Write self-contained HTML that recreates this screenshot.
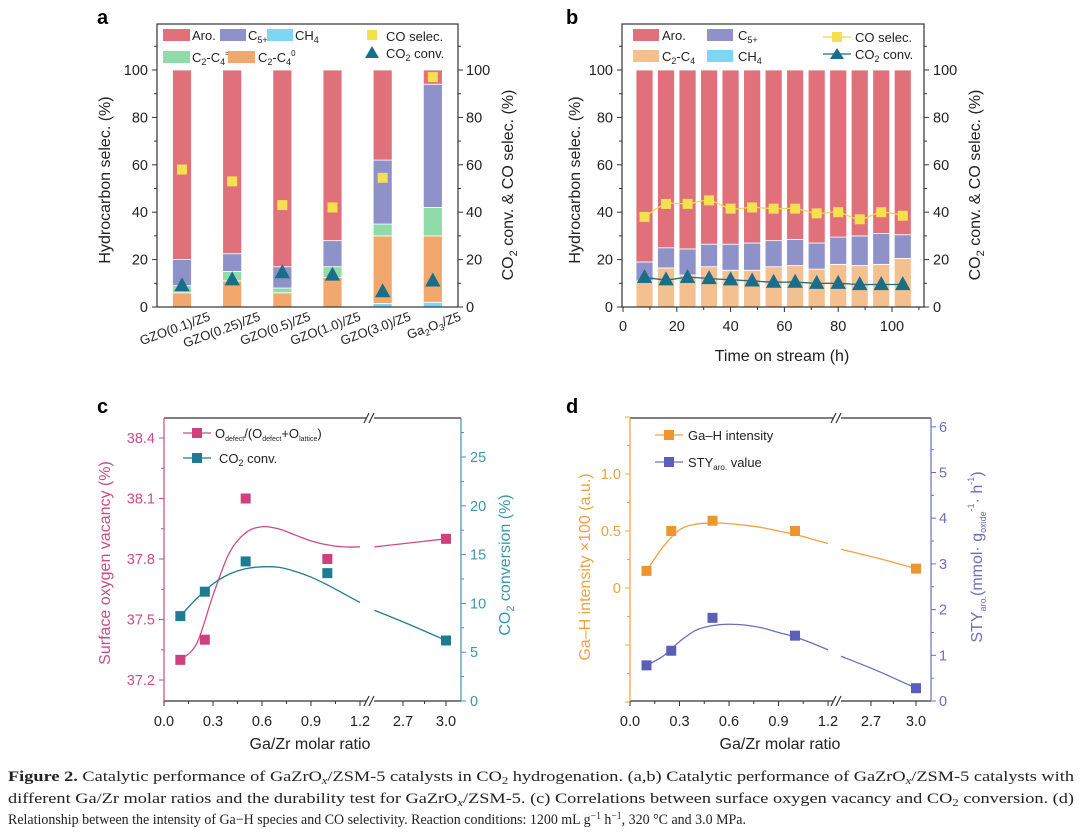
<!DOCTYPE html>
<html><head><meta charset="utf-8">
<style>
html,body{margin:0;padding:0;background:#fff;}
svg{display:block;font-family:"Liberation Sans",Arial,sans-serif;}
</style></head>
<body>
<svg id="fig" width="1080" height="838" viewBox="0 0 1080 838" xmlns="http://www.w3.org/2000/svg">
<rect x="0" y="0" width="1080" height="838" fill="#fff"/>
<!-- panel letters -->
<text x="97" y="24" font-size="20" font-weight="bold">a</text>
<text x="566" y="24" font-size="20" font-weight="bold">b</text>
<text x="97" y="413" font-size="20" font-weight="bold">c</text>
<text x="566" y="413" font-size="20" font-weight="bold">d</text>

<!-- panel a titles -->
<text transform="translate(110,180) rotate(-90)" text-anchor="middle" font-size="16" fill="#222">Hydrocarbon selec. (%)</text>
<text transform="translate(513,185) rotate(-90)" text-anchor="middle" font-size="16" fill="#222">CO<tspan font-size="11" dy="4">2</tspan><tspan dy="-4"> conv. &amp; CO selec. (%)</tspan></text>
<!-- panel a legend -->
<g font-size="13" fill="#222">
<rect x="163" y="29" width="27" height="12" fill="#e0707a"/>
<text x="192" y="40">Aro.</text>
<rect x="220" y="29" width="26" height="12" fill="#8e92c8"/>
<text x="248" y="40">C<tspan font-size="9" dy="3">5+</tspan></text>
<rect x="267" y="29" width="26" height="12" fill="#7dd6f2"/>
<text x="295" y="40">CH<tspan font-size="9" dy="3">4</tspan></text>
<rect x="163" y="51" width="27" height="12" fill="#8fdca8"/>
<text x="192" y="62">C<tspan font-size="9" dy="3">2</tspan><tspan dy="-3">-C</tspan><tspan font-size="9" dy="3">4</tspan><tspan font-size="8" dy="-9">=</tspan></text>
<rect x="228" y="51" width="27" height="12" fill="#f2a86c"/>
<text x="258" y="62">C<tspan font-size="9" dy="3">2</tspan><tspan dy="-3">-C</tspan><tspan font-size="9" dy="3">4</tspan><tspan font-size="8" dy="-9">0</tspan></text>
<rect x="367" y="30" width="10" height="10" fill="#f5e050"/>
<text x="386" y="41">CO selec.</text>
<path d="M372,46 L379,58 L365,58 Z" fill="#1a6e8a"/>
<text x="386" y="58">CO<tspan font-size="9" dy="3">2</tspan><tspan dy="-3"> conv.</tspan></text>
</g>

<!-- panel b titles -->
<text transform="translate(580,180) rotate(-90)" text-anchor="middle" font-size="16" fill="#222">Hydrocarbon selec. (%)</text>
<text transform="translate(980,185) rotate(-90)" text-anchor="middle" font-size="16" fill="#222">CO<tspan font-size="11" dy="4">2</tspan><tspan dy="-4"> conv. &amp; CO selec. (%)</tspan></text>
<text x="782" y="361" text-anchor="middle" font-size="16" fill="#222">Time on stream (h)</text>
<g font-size="13" fill="#222">
<rect x="633" y="29" width="26" height="12" fill="#e0707a"/>
<text x="662" y="40">Aro.</text>
<rect x="707" y="29" width="26" height="12" fill="#8e92c8"/>
<text x="738" y="40">C<tspan font-size="9" dy="3">5+</tspan></text>
<rect x="633" y="50" width="26" height="12" fill="#f5c08f"/>
<text x="662" y="61">C<tspan font-size="9" dy="3">2</tspan><tspan dy="-3">-C</tspan><tspan font-size="9" dy="3">4</tspan></text>
<rect x="707" y="50" width="26" height="12" fill="#7dd6f2"/>
<text x="738" y="61">CH<tspan font-size="9" dy="3">4</tspan></text>
<line x1="823" y1="37" x2="851" y2="37" stroke="#f0d84a" stroke-width="1.3"/>
<rect x="832" y="32" width="10" height="10" fill="#f5e050"/>
<text x="855" y="42">CO selec.</text>
<line x1="823" y1="54" x2="851" y2="54" stroke="#1a6e8a" stroke-width="1.3"/>
<path d="M837,48 L844,59 L830,59 Z" fill="#1a6e8a"/>
<text x="855" y="59">CO<tspan font-size="9" dy="3">2</tspan><tspan dy="-3"> conv.</tspan></text>
</g>

<!-- panel c titles -->
<text transform="translate(110,563) rotate(-90)" text-anchor="middle" font-size="16" fill="#cc4c86">Surface oxygen vacancy (%)</text>
<text transform="translate(510,565) rotate(-90)" text-anchor="middle" font-size="16" fill="#3a98ad">CO<tspan font-size="11" dy="4">2</tspan><tspan dy="-4"> conversion (%)</tspan></text>
<text x="310" y="749" text-anchor="middle" font-size="16" fill="#222">Ga/Zr molar ratio</text>
<g font-size="13" fill="#222">
<line x1="183" y1="433" x2="211" y2="433" stroke="#cc4c86" stroke-width="1.3"/>
<rect x="192" y="428" width="10" height="10" fill="#d0407e"/>
<text x="215" y="438">O<tspan font-size="7" dy="3">defect</tspan><tspan dy="-3">/(O</tspan><tspan font-size="7" dy="3">defect</tspan><tspan dy="-3">+O</tspan><tspan font-size="7" dy="3">lattice</tspan><tspan dy="-3">)</tspan></text>
<line x1="183" y1="458" x2="211" y2="458" stroke="#1e7b92" stroke-width="1.3"/>
<rect x="192" y="453" width="10" height="10" fill="#1e7b92"/>
<text x="219" y="463">CO<tspan font-size="9" dy="3">2</tspan><tspan dy="-3"> conv.</tspan></text>
</g>

<!-- panel d titles -->
<text transform="translate(590,567) rotate(-90)" text-anchor="middle" font-size="16" fill="#f0a040">Ga–H intensity ×100 (a.u.)</text>
<text transform="translate(982,557) rotate(-90)" text-anchor="middle" font-size="16" fill="#6a70b8">STY<tspan font-size="9" dy="4">aro.</tspan><tspan dy="-4">(mmol· g</tspan><tspan font-size="9" dy="4">oxide</tspan><tspan font-size="9" dy="-12">-1</tspan><tspan dy="8">· h</tspan><tspan font-size="9" dy="-8">-1</tspan><tspan dy="8">)</tspan></text>
<text x="780" y="749" text-anchor="middle" font-size="16" fill="#222">Ga/Zr molar ratio</text>
<g font-size="13" fill="#222">
<line x1="655" y1="435" x2="683" y2="435" stroke="#f0a040" stroke-width="1.3"/>
<rect x="664" y="430" width="10" height="10" fill="#f0952e"/>
<text x="688" y="440">Ga–H intensity</text>
<line x1="655" y1="462" x2="683" y2="462" stroke="#6a70b8" stroke-width="1.3"/>
<rect x="664" y="457" width="10" height="10" fill="#5a60b8"/>
<text x="688" y="467">STY<tspan font-size="8" dy="3">aro.</tspan><tspan dy="-3"> value</tspan></text>
</g>

<!-- caption -->
<g font-family="'Liberation Serif',serif" font-size="14.5" fill="#222">
<text x="8" y="781" textLength="1066" lengthAdjust="spacingAndGlyphs"><tspan font-weight="bold">Figure 2.</tspan> Catalytic performance of GaZrO<tspan font-size="10" dy="3" font-style="italic">x</tspan><tspan dy="-3">/ZSM-5 catalysts in CO</tspan><tspan font-size="10" dy="3">2</tspan><tspan dy="-3"> hydrogenation. (a,b) Catalytic performance of GaZrO</tspan><tspan font-size="10" dy="3" font-style="italic">x</tspan><tspan dy="-3">/ZSM-5 catalysts with</tspan></text>
<text x="8" y="803" textLength="1066" lengthAdjust="spacingAndGlyphs">different Ga/Zr molar ratios and the durability test for GaZrO<tspan font-size="10" dy="3" font-style="italic">x</tspan><tspan dy="-3">/ZSM-5. (c) Correlations between surface oxygen vacancy and CO</tspan><tspan font-size="10" dy="3">2</tspan><tspan dy="-3"> conversion. (d)</tspan></text>
<text x="8" y="824" textLength="738" lengthAdjust="spacingAndGlyphs">Relationship between the intensity of Ga−H species and CO selectivity. Reaction conditions: 1200 mL g<tspan font-size="10" dy="-5">−1</tspan><tspan dy="5"> h</tspan><tspan font-size="10" dy="-5">−1</tspan><tspan dy="5">, 320 °C and 3.0 MPa.</tspan></text>
</g>
</svg>
<script>
// ---------- data: panel a ----------
const aCats = ['GZO(0.1)/Z5','GZO(0.25)/Z5','GZO(0.5)/Z5','GZO(1.0)/Z5','GZO(3.0)/Z5','Ga2O3/Z5'];
const aCH4 = [0, 0, 0, 0, 1.5, 2];
const aParaffin = [6, 11, 6, 12.5, 28.5, 28];
const aOlefin = [3, 4, 2, 4.5, 5, 12];
const aC5 = [11, 7.5, 9, 11, 27, 52];
const aAro = [80, 77.5, 83, 72, 38, 6];
const aCO = [58, 53, 43, 42, 54.5, 97];
const aCO2 = [9, 11.5, 14.5, 13.5, 6.5, 11];
const aTicks = [0, 20, 40, 60, 80, 100];
// ---------- data: panel b ----------
const bTime = [8, 16, 24, 32, 40, 48, 56, 64, 72, 80, 88, 96, 104];
const bC2C4 = [11, 16.5, 13.5, 17, 15.5, 15.5, 17, 17.5, 16, 18, 17.5, 18, 20.5];
const bCH4 = [0, 0, 0, 0, 0, 0, 0, 0, 0, 0, 0, 0, 0];
const bC5 = [8, 8.5, 11, 9.5, 11, 11.5, 11, 11, 11, 11.5, 12.5, 13, 10];
const bAro = [81, 75, 75.5, 73.5, 73.5, 73, 72, 71.5, 73, 70.5, 70, 69, 69.5];
const bCO = [38, 43.5, 43.5, 45, 41.5, 42, 41.5, 41.5, 39.5, 40, 37, 40, 38.5];
const bCO2 = [12.5, 11.5, 12.5, 12, 11.5, 11, 10.5, 10.5, 10, 10, 9.5, 9.5, 9.5];
const bXTicks = [0, 20, 40, 60, 80, 100];
// ---------- data: panel c ----------
const cX = [0.1, 0.25, 0.5, 1.0, 3.0];
const cVacancy = [37.3, 37.4, 38.1, 37.8, 37.9];
const cConv = [8.7, 11.2, 14.3, 13.1, 6.2];
const cFitX1 = [0.1, 0.2, 0.3, 0.4, 0.5, 0.6, 0.7, 0.8, 0.9, 1.0, 1.1, 1.2];
const cFitVac1 = [37.3, 37.38, 37.62, 37.83, 37.93, 37.96, 37.95, 37.92, 37.89, 37.87, 37.86, 37.86];
const cFitConv1 = [8.7, 10.5, 12.0, 13.0, 13.55, 13.75, 13.7, 13.3, 12.7, 11.9, 11.0, 10.1];
const cFitX2 = [2.5, 2.75, 3.0];
const cFitVac2 = [37.86, 37.88, 37.9];
const cFitConv2 = [9.3, 7.8, 6.2];
const cLeftTicks = ['37.2', '37.5', '37.8', '38.1', '38.4'];
const cRightTicks = [0, 5, 10, 15, 20, 25];
const xBrokenTicks = ['0.0', '0.3', '0.6', '0.9', '1.2', '2.7', '3.0'];
// ---------- data: panel d ----------
const dX = [0.1, 0.25, 0.5, 1.0, 3.0];
const dGaH = [0.15, 0.5, 0.59, 0.5, 0.17];
const dSTY = [0.78, 1.1, 1.82, 1.43, 0.28];
const dFitX1 = [0.1, 0.2, 0.3, 0.4, 0.5, 0.6, 0.7, 0.8, 0.9, 1.0, 1.1, 1.2];
const dFitGaH1 = [0.15, 0.36, 0.51, 0.56, 0.57, 0.565, 0.55, 0.53, 0.5, 0.47, 0.43, 0.39];
const dFitSTY1 = [0.78, 0.98, 1.3, 1.55, 1.65, 1.68, 1.66, 1.6, 1.5, 1.4, 1.27, 1.12];
const dFitX2 = [2.5, 2.75, 3.0];
const dFitGaH2 = [0.34, 0.26, 0.17];
const dFitSTY2 = [0.98, 0.65, 0.28];
const dLeftTicks = ['0', '0.5', '1.0'];
const dRightTicks = [0, 1, 2, 3, 4, 5, 6];

const NS = 'http://www.w3.org/2000/svg';
const svg = document.getElementById('fig');
function el(tag, attrs, name, parent) {
  const e = document.createElementNS(NS, tag);
  for (const k in attrs) e.setAttribute(k, attrs[k]);
  
  
  (parent || svg).appendChild(e);
  return e;
}
function tx(x, y, s, attrs, name, parent) {
  const e = el('text', Object.assign({x: x, y: y}, attrs), name, parent);
  e.textContent = s;
  return e;
}
function ln(x1, y1, x2, y2, stroke, sw, name, parent) {
  return el('line', {x1: x1, y1: y1, x2: x2, y2: y2, stroke: stroke, 'stroke-width': sw}, name, parent);
}
function smooth(pts) {
  let d = 'M' + pts[0][0] + ',' + pts[0][1];
  for (let i = 0; i < pts.length - 1; i++) {
    const p0 = pts[Math.max(0, i - 1)], p1 = pts[i], p2 = pts[i + 1], p3 = pts[Math.min(pts.length - 1, i + 2)];
    const c1x = p1[0] + (p2[0] - p0[0]) / 6, c1y = p1[1] + (p2[1] - p0[1]) / 6;
    const c2x = p2[0] - (p3[0] - p1[0]) / 6, c2y = p2[1] - (p3[1] - p1[1]) / 6;
    d += ' C' + c1x + ',' + c1y + ' ' + c2x + ',' + c2y + ' ' + p2[0] + ',' + p2[1];
  }
  return d;
}
function tri(cx, cy, s, fill, name, parent) {
  return el('path', {d: 'M' + cx + ',' + (cy - s * 0.6) + ' L' + (cx + s * 0.55) + ',' + (cy + s * 0.4) + ' L' + (cx - s * 0.55) + ',' + (cy + s * 0.4) + ' Z', fill: fill}, name, parent);
}
function sq(cx, cy, s, fill, name, parent) {
  return el('rect', {x: cx - s / 2, y: cy - s / 2, width: s, height: s, fill: fill}, name, parent);
}

// ================= PANEL A =================
(function () {
  const g = el('g', {}, 'panel-a-chart');
  const L = 157, R = 458, T = 24, B = 307;
  const yA = v => B - v * 2.37;
  const xA = i => L + 25 + i * ((R - L) / aCats.length);
  const colors = ['#7dd6f2', '#f2a86c', '#8fdca8', '#8e92c8', '#e0707a'];
  const series = [aCH4, aParaffin, aOlefin, aC5, aAro];
  const sNames = ['ch4', 'paraffin', 'olefin', 'c5', 'aro'];
  for (let i = 0; i < aCats.length; i++) {
    let base = 0;
    for (let s = 0; s < series.length; s++) {
      const v = series[s][i];
      if (v > 0) {
        const r = el('rect', {x: xA(i) - 9.5, y: yA(base + v), width: 19, height: yA(base) - yA(base + v), fill: colors[s], stroke: '#fff', 'stroke-width': 0.8}, 'a-bar-' + sNames[s] + '-' + i, g);
      }
      base += v;
    }
  }
  el('rect', {x: L, y: T, width: R - L, height: B - T, fill: 'none', stroke: '#333', 'stroke-width': 1.2}, 'a-plot-frame', g);
  for (let v = 0; v <= 110; v += 10) {
    const major = v % 20 === 0;
    const len = major ? 5 : 3;
    ln(L, yA(v), L - len, yA(v), '#333', 1, 'a-left-tick', g);
    ln(R, yA(v), R + len, yA(v), '#333', 1, 'a-right-tick', g);
  }
  aTicks.forEach(v => {
    tx(148, yA(v) + 5, String(v), {'text-anchor': 'end', 'font-size': 14.5, fill: '#222'}, 'a-left-tick-label', g);
    tx(466, yA(v) + 5, String(v), {'font-size': 14.5, fill: '#222'}, 'a-right-tick-label', g);
  });
  aCats.forEach((c, i) => {
    const t = el('text', {transform: 'translate(' + (xA(i) + 29) + ',320) rotate(-20)', 'text-anchor': 'end', 'font-size': 13, fill: '#222'}, 'a-x-tick-label', g);
    if (c === 'Ga2O3/Z5') {
      t.innerHTML = 'Ga<tspan font-size="9" dy="3">2</tspan><tspan dy="-3">O</tspan><tspan font-size="9" dy="3">3</tspan><tspan dy="-3">/Z5</tspan>';
    } else {
      t.textContent = c;
    }
  });
  aCO.forEach((v, i) => sq(xA(i), yA(v), 10, '#f5e050', 'a-co-selec-marker', g));
  aCO2.forEach((v, i) => tri(xA(i), yA(v), 14, '#1a6e8a', 'a-co2-conv-marker', g));
})();

// ================= PANEL B =================
(function () {
  const g = el('g', {}, 'panel-b-chart');
  const L = 622, R = 924, T = 24, B = 307;
  const yB = v => B - v * 2.37;
  const xB = t => 623 + t * 2.69;
  const colors = ['#7dd6f2', '#f5c08f', '#8e92c8', '#e0707a'];
  const series = [bCH4, bC2C4, bC5, bAro];
  const sNames = ['ch4', 'c2c4', 'c5', 'aro'];
  for (let i = 0; i < bTime.length; i++) {
    let base = 0;
    for (let s = 0; s < series.length; s++) {
      const v = series[s][i];
      if (v > 0) {
        el('rect', {x: xB(bTime[i]) - 8.5, y: yB(base + v), width: 17, height: yB(base) - yB(base + v), fill: colors[s], stroke: '#fff', 'stroke-width': 0.8}, 'b-bar-' + sNames[s] + '-' + i, g);
      }
      base += v;
    }
  }
  el('rect', {x: L, y: T, width: R - L, height: B - T, fill: 'none', stroke: '#333', 'stroke-width': 1.2}, 'b-plot-frame', g);
  for (let v = 0; v <= 110; v += 10) {
    const major = v % 20 === 0;
    const len = major ? 5 : 3;
    ln(L, yB(v), L - len, yB(v), '#333', 1, 'b-left-tick', g);
    ln(R, yB(v), R + len, yB(v), '#333', 1, 'b-right-tick', g);
    ln(xB(v), B, xB(v), B + len, '#333', 1, 'b-x-tick', g);
  }
  aTicks.forEach(v => {
    tx(613, yB(v) + 5, String(v), {'text-anchor': 'end', 'font-size': 14.5, fill: '#222'}, 'b-left-tick-label', g);
    tx(933, yB(v) + 5, String(v), {'font-size': 14.5, fill: '#222'}, 'b-right-tick-label', g);
  });
  bXTicks.forEach(v => tx(xB(v), 331, String(v), {'text-anchor': 'middle', 'font-size': 14.5, fill: '#222'}, 'b-x-tick-label', g));
  el('path', {d: smooth(bTime.map((t, i) => [xB(t), yB(bCO[i])])), fill: 'none', stroke: '#f0d84a', 'stroke-width': 1.3}, 'b-co-selec-line', g);
  el('path', {d: smooth(bTime.map((t, i) => [xB(t), yB(bCO2[i])])), fill: 'none', stroke: '#1a6e8a', 'stroke-width': 1.3}, 'b-co2-conv-line', g);
  bCO.forEach((v, i) => sq(xB(bTime[i]), yB(v), 10, '#f5e050', 'b-co-selec-marker', g));
  bCO2.forEach((v, i) => tri(xB(bTime[i]), yB(v), 14, '#1a6e8a', 'b-co2-conv-marker', g));
})();

// ============ broken x-axis helper for c, d ============
function brokenFrame(g, p, lColor, rColor, prefix) {
  const {L, R, T, B, brk, xf} = p;
  ln(L, T, brk - 4, T, '#333', 1.2, prefix + '-top-axis', g);
  ln(brk + 4, T, R, T, '#333', 1.2, prefix + '-top-axis', g);
  ln(L, B, brk - 4, B, '#333', 1.2, prefix + '-bottom-axis', g);
  ln(brk + 4, B, R, B, '#333', 1.2, prefix + '-bottom-axis', g);
  [T, B].forEach(y => {
    ln(brk - 6, y + 5, brk - 1, y - 5, '#333', 1.2, prefix + '-axis-break', g);
    ln(brk - 1, y + 5, brk + 4, y - 5, '#333', 1.2, prefix + '-axis-break', g);
  });
  ln(L, T, L, B, lColor, 1.2, prefix + '-left-axis', g);
  ln(R, T, R, B, rColor, 1.2, prefix + '-right-axis', g);
  xBrokenTicks.forEach(s => {
    const v = parseFloat(s);
    ln(xf(v), B, xf(v), B + 5, '#333', 1, prefix + '-x-tick', g);
    tx(xf(v), 726, s, {'text-anchor': 'middle', 'font-size': 14.5, fill: '#222'}, prefix + '-x-tick-label', g);
  });
  [0.15, 0.45, 0.75, 1.05, 2.85].forEach(v => ln(xf(v), B, xf(v), B + 3, '#333', 1, prefix + '-x-minor-tick', g));
}

// ================= PANEL C =================
(function () {
  const g = el('g', {}, 'panel-c-chart');
  const L = 164, R = 461, T = 418, B = 701;
  const xC = v => v <= 1.3 ? 164 + v * (49 / 0.3) : 403 + (v - 2.7) * (43 / 0.3);
  const yL = v => 680 - (v - 37.2) * (60.5 / 0.3);
  const yR = v => 701 - v * 9.76;
  brokenFrame(g, {L, R, T, B, brk: 370, xf: xC}, '#cc4c86', '#3a98ad', 'c');
  for (let v = 37.05; v <= 38.5; v += 0.15) {
    const major = Math.abs(((v - 37.2) / 0.3) - Math.round((v - 37.2) / 0.3)) < 0.01;
    if (yL(v) < T || yL(v) > B) continue;
    ln(L, yL(v), L - (major ? 5 : 3), yL(v), '#cc4c86', 1, 'c-left-tick', g);
  }
  cLeftTicks.forEach(s => tx(155, yL(parseFloat(s)) + 5, s, {'text-anchor': 'end', 'font-size': 14.5, fill: '#cc4c86'}, 'c-left-tick-label', g));
  for (let v = 0; v <= 27.5; v += 2.5) {
    ln(R, yR(v), R + (v % 5 === 0 ? 5 : 3), yR(v), '#3a98ad', 1, 'c-right-tick', g);
  }
  cRightTicks.forEach(v => tx(470, yR(v) + 5, String(v), {'font-size': 14.5, fill: '#3a98ad'}, 'c-right-tick-label', g));
  el('path', {d: smooth(cFitX1.map((x, i) => [xC(x), yL(cFitVac1[i])])), fill: 'none', stroke: '#cc4c86', 'stroke-width': 1.3}, 'c-vacancy-fit-line', g);
  el('path', {d: smooth(cFitX2.map((x, i) => [xC(x), yL(cFitVac2[i])])), fill: 'none', stroke: '#cc4c86', 'stroke-width': 1.3}, 'c-vacancy-fit-line', g);
  el('path', {d: smooth(cFitX1.map((x, i) => [xC(x), yR(cFitConv1[i])])), fill: 'none', stroke: '#1e7b92', 'stroke-width': 1.3}, 'c-conv-fit-line', g);
  el('path', {d: smooth(cFitX2.map((x, i) => [xC(x), yR(cFitConv2[i])])), fill: 'none', stroke: '#1e7b92', 'stroke-width': 1.3}, 'c-conv-fit-line', g);
  cX.forEach((x, i) => sq(xC(x), yL(cVacancy[i]), 10, '#d0407e', 'c-vacancy-marker', g));
  cX.forEach((x, i) => sq(xC(x), yR(cConv[i]), 10, '#1e7b92', 'c-conv-marker', g));
})();

// ================= PANEL D =================
(function () {
  const g = el('g', {}, 'panel-d-chart');
  const L = 630, R = 931, T = 418, B = 701;
  const xD = v => v <= 1.3 ? 630 + v * (49.5 / 0.3) : 871 + (v - 2.7) * (45 / 0.3);
  const yL = v => 588 - v * 114;
  const yR = v => 701 - v * 45.7;
  brokenFrame(g, {L, R, T, B, brk: 837, xf: xD}, '#f0a040', '#6a70b8', 'd');
  for (let v = -1.0; v <= 1.5; v += 0.25) {
    const major = Math.abs(v * 2 - Math.round(v * 2)) < 0.01;
    ln(L, yL(v), L - (major ? 5 : 3), yL(v), '#f0a040', 1, 'd-left-tick', g);
  }
  dLeftTicks.forEach(s => tx(621, yL(parseFloat(s)) + 5, s, {'text-anchor': 'end', 'font-size': 14.5, fill: '#f0a040'}, 'd-left-tick-label', g));
  for (let v = 0; v <= 6; v += 0.5) {
    ln(R, yR(v), R + (v % 1 === 0 ? 5 : 3), yR(v), '#6a70b8', 1, 'd-right-tick', g);
  }
  dRightTicks.forEach(v => tx(939, yR(v) + 5, String(v), {'font-size': 14.5, fill: '#6a70b8'}, 'd-right-tick-label', g));
  el('path', {d: smooth(dFitX1.map((x, i) => [xD(x), yL(dFitGaH1[i])])), fill: 'none', stroke: '#f0a040', 'stroke-width': 1.3}, 'd-gah-fit-line', g);
  el('path', {d: smooth(dFitX2.map((x, i) => [xD(x), yL(dFitGaH2[i])])), fill: 'none', stroke: '#f0a040', 'stroke-width': 1.3}, 'd-gah-fit-line', g);
  el('path', {d: smooth(dFitX1.map((x, i) => [xD(x), yR(dFitSTY1[i])])), fill: 'none', stroke: '#6a70b8', 'stroke-width': 1.3}, 'd-sty-fit-line', g);
  el('path', {d: smooth(dFitX2.map((x, i) => [xD(x), yR(dFitSTY2[i])])), fill: 'none', stroke: '#6a70b8', 'stroke-width': 1.3}, 'd-sty-fit-line', g);
  dX.forEach((x, i) => sq(xD(x), yL(dGaH[i]), 10, '#f0952e', 'd-gah-marker', g));
  dX.forEach((x, i) => sq(xD(x), yR(dSTY[i]), 10, '#5a60b8', 'd-sty-marker', g));
})();
</script>
</body></html>
